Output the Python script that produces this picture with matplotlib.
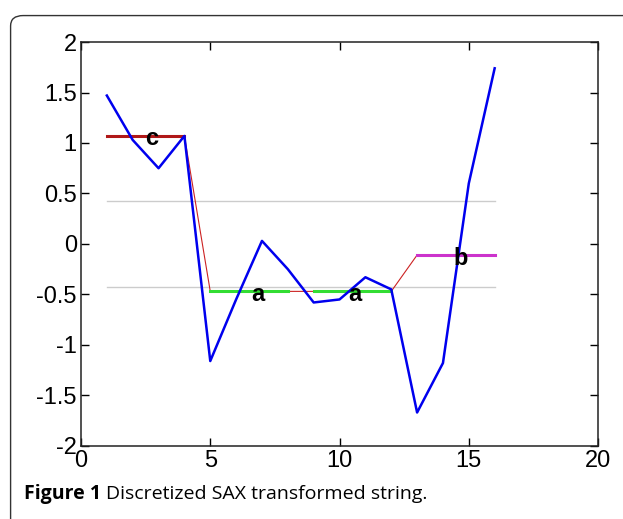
import matplotlib
matplotlib.use("Agg")
import matplotlib.pyplot as plt
from matplotlib.patches import FancyBboxPatch

# raw series (z-normalised)
t = list(range(1, 17))
series = [1.47, 1.03, 0.75, 1.07, -1.16, -0.55, 0.03, -0.25,
          -0.58, -0.55, -0.33, -0.45, -1.67, -1.18, 0.60, 1.74]

# PAA approximation, connecting line
paa_x = [1, 4, 5, 12, 13, 16]
paa_y = [1.07, 1.07, -0.47, -0.47, -0.11, -0.11]

# symbol segments
seg_x = [(1, 4), (5, 8), (9, 12), (13, 16)]
seg_y = [1.07, -0.47, -0.47, -0.11]
seg_col = ["#b01818", "#33dd33", "#33dd33", "#cc33cc"]
letters = ["c", "a", "a", "b"]
letter_x = [2.75, 6.85, 10.6, 14.7]

breakpoints = [0.43, -0.43]

fig = plt.figure(figsize=(6.23, 5.19), dpi=100)
frame = FancyBboxPatch((0.017, -0.05), 1.1, 1.02, boxstyle="round,pad=0,rounding_size=0.02",
                       transform=fig.transFigure, fill=False, edgecolor="#333333", lw=1.0)
fig.patches.append(frame)

ax = fig.add_axes([0.130, 0.141, 0.830, 0.778])
for b in breakpoints:
    ax.plot([1, 16], [b, b], color="#cccccc", lw=1.0, zorder=1)
ax.plot(paa_x, paa_y, color="#cc2222", lw=0.8, zorder=2)
for (x0, x1), y, c in zip(seg_x, seg_y, seg_col):
    ax.plot([x0, x1], [y, y], color=c, lw=2.2, zorder=3)
ax.plot(t, series, color="#0000ee", lw=1.8, zorder=4)
for lx, y, s in zip(letter_x, seg_y, letters):
    ax.text(lx, y - 0.03, s, fontsize=17, fontweight="bold", ha="center", va="center",
            family="Liberation Sans", zorder=5)

ax.set_xlim(0, 20)
ax.set_ylim(-2, 2)
ax.set_xticks([0, 5, 10, 15, 20])
ax.set_yticks([-2, -1.5, -1, -0.5, 0, 0.5, 1, 1.5, 2])
ax.set_yticklabels(["-2", "-1.5", "-1", "-0.5", "0", "0.5", "1", "1.5", "2"])
ax.tick_params(direction="in", top=True, right=True, length=6, labelsize=17, pad=3, width=1.0)
for lab in ax.get_xticklabels() + ax.get_yticklabels():
    lab.set_family("Liberation Sans")
for sp in ax.spines.values():
    sp.set_color("#222222")
    sp.set_linewidth(1.1)

cap1 = fig.text(0.038, 0.048, "Figure 1", fontsize=14, fontweight="bold",
                family="Open Sans", va="center")
fig.canvas.draw()
bb = cap1.get_window_extent().transformed(fig.transFigure.inverted())
fig.text(bb.x1 + 0.008, 0.048, "Discretized SAX transformed string.", fontsize=14,
         family="Open Sans", va="center")

fig.savefig("out.png", dpi=100)
